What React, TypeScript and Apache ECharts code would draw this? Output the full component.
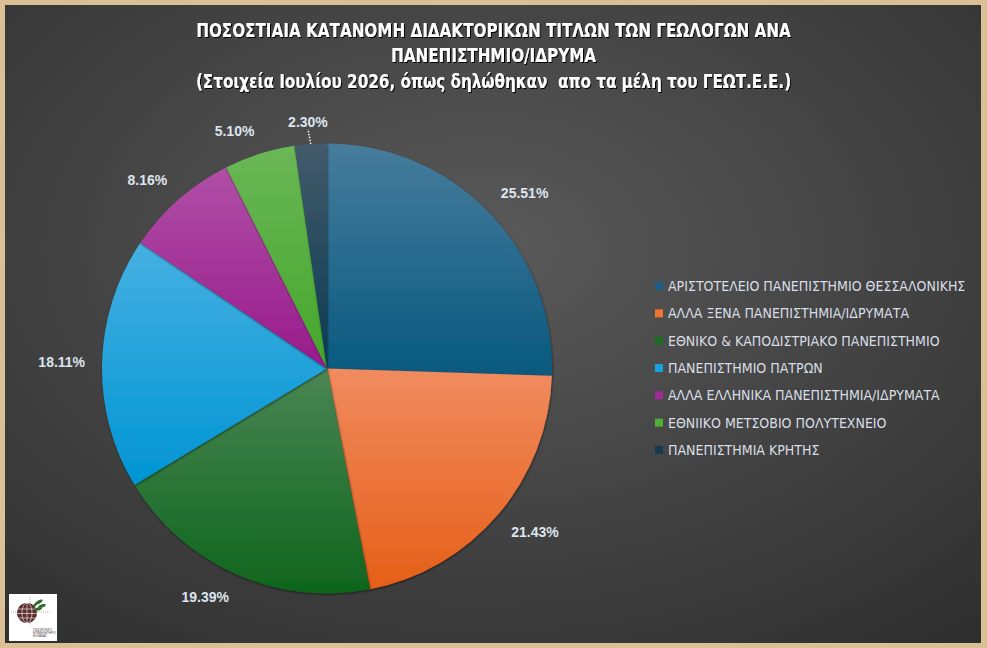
import React, { useEffect, useRef } from 'react';
import * as echarts from 'echarts';

const categories = [
  'ΑΡΙΣΤΟΤΕΛΕΙΟ ΠΑΝΕΠΙΣΤΗΜΙΟ ΘΕΣΣΑΛΟΝΙΚΗΣ',
  'ΑΛΛΑ ΞΕΝΑ ΠΑΝΕΠΙΣΤΗΜΙΑ/ΙΔΡΥΜΑΤΑ',
  'ΕΘΝΙΚΟ & ΚΑΠΟΔΙΣΤΡΙΑΚΟ ΠΑΝΕΠΙΣΤΗΜΙΟ',
  'ΠΑΝΕΠΙΣΤΗΜΙΟ ΠΑΤΡΩΝ',
  'ΑΛΛΑ ΕΛΛΗΝΙΚΑ ΠΑΝΕΠΙΣΤΗΜΙΑ/ΙΔΡΥΜΑΤΑ',
  'ΕΘΝΙΙΚΟ ΜΕΤΣΟΒΙΟ ΠΟΛΥΤΕΧΝΕΙΟ',
  'ΠΑΝΕΠΙΣΤΗΜΙΑ ΚΡΗΤΗΣ',
];
const percentages = [25.51, 21.43, 19.39, 18.11, 8.16, 5.1, 2.3];

const topColors = ['#477c9c', '#f08b5f', '#4a8654', '#46b0e2', '#b04fa6', '#6ab756', '#435b6b'];
const bottomColors = ['#08597f', '#e65f18', '#0e651c', '#0095d3', '#981a8c', '#44a72a', '#093a52'];
const legendColors = ['#1a5f86', '#f07432', '#1a6c25', '#18a1dd', '#a02a98', '#4daf36', '#15394f'];

const titleLines = [
  'ΠΟΣΟΣΤΙΑΙΑ ΚΑΤΑΝΟΜΗ ΔΙΔΑΚΤΟΡΙΚΩΝ ΤΙΤΛΩΝ ΤΩΝ ΓΕΩΛΟΓΩΝ ΑΝΑ',
  'ΠΑΝΕΠΙΣΤΗΜΙΟ/ΙΔΡΥΜΑ',
  '(Στοιχεία Ιουλίου 2026, όπως δηλώθηκαν  απο τα μέλη του ΓΕΩΤ.Ε.Ε.)',
];

export default function App() {
  const ref = useRef<HTMLDivElement>(null);

  useEffect(() => {
    document.body.style.margin = '0';
    const chart = echarts.init(ref.current!, undefined, { renderer: 'svg' });

    const data = categories.map((name, i) => ({
      name,
      value: percentages[i],
      itemStyle: {
        color: {
          type: 'linear',
          x: 0,
          y: 0,
          x2: 0,
          y2: 1,
          colorStops: [
            { offset: 0, color: topColors[i] },
            { offset: 1, color: bottomColors[i] },
          ],
        },
      },
      labelLine:
        i === 6
          ? { show: true, lineStyle: { color: '#ffffff', width: 1.5, type: [1.5, 1.5], opacity: 1 } }
          : undefined,
    }));

    const titleFont = "'DejaVu Sans Condensed', sans-serif";
    const titleY = [30, 55, 81];

    const titleTexts = titleLines.map((t, i) => ({
      type: 'text',
      x: 493.5,
      y: titleY[i],
      scaleX: 0.89,
      z: 10,
      style: {
        text: t,
        align: 'center',
        verticalAlign: 'middle',
        fill: '#ffffff',
        fontSize: 19,
        fontWeight: 'bold',
        fontFamily: titleFont,
        textShadowColor: '#000000',
        textShadowOffsetX: 1,
        textShadowOffsetY: 1,
        textShadowBlur: 1,
      },
    }));

    chart.setOption({
      animation: false,
      backgroundColor: '#dcc095',
      graphic: [
        {
          type: 'rect',
          z: -10,
          shape: { x: 5, y: 5, width: 976, height: 638 },
          style: {
            fill: {
              type: 'radial',
              x: 0.487,
              y: 0.384,
              r: 1.0,
              colorStops: [
                { offset: 0, color: '#5a5a5a' },
                { offset: 1, color: '#232323' },
              ],
            },
          },
        },
        ...titleTexts,
        {
          type: 'group',
          children: [
            { type: 'rect', shape: { x: 9, y: 594, width: 48, height: 47 }, style: { fill: '#ffffff' } },
            { type: 'line', shape: { x1: 30, y1: 597, x2: 30, y2: 626 }, style: { stroke: '#e9a3a3', lineWidth: 1, lineDash: [1, 1] } },
            { type: 'line', shape: { x1: 11, y1: 612, x2: 50, y2: 612 }, style: { stroke: '#e9a3a3', lineWidth: 1, lineDash: [1, 1] } },
            { type: 'circle', shape: { cx: 27, cy: 613, r: 10 }, style: { fill: '#5b2d2d' } },
            { type: 'line', shape: { x1: 18, y1: 609, x2: 36, y2: 609 }, style: { stroke: '#ffffff', lineWidth: 0.6 } },
            { type: 'line', shape: { x1: 17, y1: 613.5, x2: 37, y2: 613.5 }, style: { stroke: '#ffffff', lineWidth: 0.6 } },
            { type: 'line', shape: { x1: 18, y1: 618, x2: 36, y2: 618 }, style: { stroke: '#ffffff', lineWidth: 0.6 } },
            { type: 'line', shape: { x1: 27, y1: 603, x2: 27, y2: 623 }, style: { stroke: '#ffffff', lineWidth: 0.6 } },
            { type: 'ellipse', shape: { cx: 27, cy: 613, rx: 5, ry: 10 }, style: { fill: 'none', stroke: '#ffffff', lineWidth: 0.6 } },
            { type: 'ellipse', x: 39, y: 602, rotation: 0.5, shape: { cx: 0, cy: 0, rx: 4, ry: 1.6 }, style: { fill: '#2e6b2e' } },
            { type: 'ellipse', x: 42, y: 606, rotation: 0.3, shape: { cx: 0, cy: 0, rx: 4, ry: 1.6 }, style: { fill: '#2e6b2e' } },
            { type: 'ellipse', x: 38, y: 609, rotation: 0.2, shape: { cx: 0, cy: 0, rx: 4, ry: 1.6 }, style: { fill: '#2e6b2e' } },
            { type: 'ellipse', x: 35, y: 605, rotation: 0.9, shape: { cx: 0, cy: 0, rx: 3, ry: 1.3 }, style: { fill: '#2e6b2e' } },
            { type: 'text', x: 33, y: 628, style: { text: 'ΓΕΩΤΕΧΝΙΚΟ\nΕΠΙΜΕΛΗΤΗΡΙΟ\nΕΛΛΑΔΑΣ', fontSize: 3, lineHeight: 3.2, fill: '#444444', fontFamily: 'Liberation Sans' } },
          ],
        },
      ],
      legend: {
        orient: 'vertical',
        left: 655,
        top: 279,
        padding: 0,
        itemWidth: 8,
        itemHeight: 8,
        itemGap: 13.33,
        icon: 'rect',
        data: categories.map((name, i) => ({ name, itemStyle: { color: legendColors[i] } })),
        textStyle: {
          color: '#d8dee6',
          fontSize: 14,
          lineHeight: 14,
          fontFamily: "'DejaVu Sans Condensed', sans-serif",
        },
      },
      series: [
        {
          type: 'pie',
          center: [327, 368.5],
          radius: 225,
          startAngle: 90,
          clockwise: true,
          avoidLabelOverlap: false,
          data,
          itemStyle: {
            borderWidth: 0,
            shadowColor: 'rgba(0,0,0,0.55)',
            shadowBlur: 2,
            shadowOffsetX: 0.5,
            shadowOffsetY: 1,
          },
          emphasis: { disabled: true },
          label: {
            show: true,
            position: 'outside',
            formatter: (p: any) => p.value.toFixed(2) + '%',
            color: '#dde4ee',
            fontSize: 14,
            fontWeight: 'bold',
            fontFamily: "'Liberation Sans', Arial, sans-serif",
          },
          labelLine: {
            show: true,
            length: 10,
            length2: 0,
            lineStyle: { opacity: 0 },
          },
          labelLayout: (params: any) => {
            const pts = params.labelLinePoints;
            if (!pts || pts.length < 2) return {};
            const p0 = pts[0];
            const p1 = pts[1];
            const dx = p1[0] - p0[0];
            const dy = p1[1] - p0[1];
            const len = Math.hypot(dx, dy) || 1;
            const ux = dx / len;
            const uy = dy / len;
            const gap = params.dataIndex === 6 ? 15 : 17;
            const px = p0[0] + ux * gap;
            const py = p0[1] + uy * gap;
            const w = params.labelRect.width;
            const h = params.labelRect.height;
            const f = (t: number) => Math.max(-1, Math.min(1, t * 4));
            return {
              x: px + (w / 2) * f(ux) + (params.dataIndex === 6 ? 4 : 0),
              y: py + (h / 2) * f(uy),
              align: 'center',
              verticalAlign: 'middle',
            };
          },
        },
      ],
    });

    return () => chart.dispose();
  }, []);

  return (
    <div
      ref={ref}
      style={{ position: 'absolute', left: 0, top: 0, width: 987, height: 648 }}
    />
  );
}
